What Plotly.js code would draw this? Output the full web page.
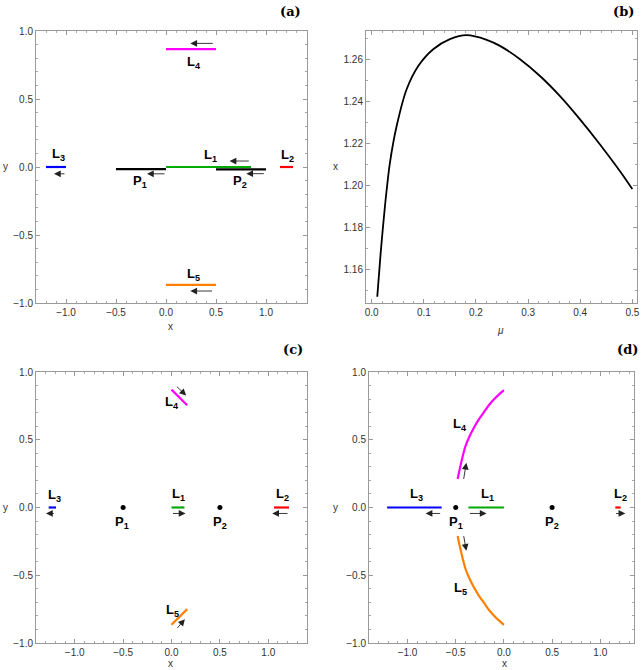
<!DOCTYPE html>
<html>
<head>
<meta charset="utf-8">
<script src="https://cdn.plot.ly/plotly-3.0.1.min.js"></script>
<style>
  html, body { margin: 0; padding: 0; background: #fff; }
  #grafica { width: 642px; height: 670px; }
</style>
</head>
<body>
<div id="grafica"></div>
<script>
// Panel (b): curva x(mu)
const mu = [0.0106, 0.0171, 0.0253, 0.0349, 0.0478, 0.067, 0.0893, 0.118, 0.150, 0.182, 0.2205, 0.246,
  0.2845, 0.3228, 0.3612, 0.3996, 0.438, 0.4764, 0.50];
const xMu = [1.1469, 1.1677, 1.190, 1.2108, 1.2284, 1.246, 1.2571, 1.2651, 1.2699, 1.2718, 1.2696, 1.2667,
  1.2603, 1.2523, 1.2427, 1.2316, 1.2196, 1.2068, 1.1983];

// Panel (a): segmentos
const aNombres = ["L3", "P1", "P2", "L1", "L2", "L4", "L5"];
const aX0 = [-1.2, -0.5, 0.5, 0, 1.14, 0, 0];
const aX1 = [-1.0, 0, 1.0, 0.85, 1.27, 0.5, 0.5];
const aY0 = [0, -0.015, -0.017, 0, 0, 0.866, -0.866];
const aY1 = [0, -0.015, -0.017, 0, 0, 0.866, -0.866];
// flechas (cola -> punta)
const aColaX = [-1.0, 0, 0.843, 0.993, 0.483, 0.476];
const aColaY = [-0.05, -0.05, 0.044, -0.049, 0.909, -0.912];
const aPuntaX = [-1.12, -0.19, 0.636, 0.803, 0.243, 0.243];
const aPuntaY = [-0.05, -0.05, 0.044, -0.049, 0.909, -0.912];
// etiquetas
const aEtiquetas = ["L3", "L1", "L2", "P1", "P2", "L4", "L5"];
const aEtiqX = [-1.074, 0.443, 1.216, -0.257, 0.743, 0.276, 0.276];
const aEtiqY = [0.093, 0.088, 0.088, -0.103, -0.103, 0.767, -0.794];

// Panel (c)
const cNombres = ["L3", "L1", "L2", "L4", "L5"];
const cX0 = [-1.269, 0, 1.059, 0, 0];
const cX1 = [-1.193, 0.134, 1.214, 0.162, 0.162];
const cY0 = [0, 0, 0, 0.87, -0.865];
const cY1 = [0, 0, 0, 0.755, -0.75];
const cColaX = [-1.2, 0, 1.214, 0.041, 0.048];
const cColaY = [-0.044, -0.044, -0.044, 0.902, -0.9];
const cPuntaX = [-1.297, 0.145, 1.041, 0.152, 0.138];
const cPuntaY = [-0.044, -0.044, -0.044, 0.826, -0.824];
const cEtiquetas = ["L3", "L1", "L2", "P1", "P2", "L4", "L5"];
const cEtiqX = [-1.21, 0.076, 1.145, -0.51, 0.497, 0.007, 0.007];
const cEtiqY = [0.086, 0.093, 0.093, -0.11, -0.11, 0.772, -0.76];

// Panel (d)
const dNombres = ["L3", "L1", "L2"];
const dX0 = [-1.212, -0.368, 1.156];
const dX1 = [-0.646, 0, 1.212];
const dY0 = [0, 0, 0];
const dY1 = [0, 0, 0];
const dL4x = [-0.48, -0.45, -0.40, -0.36, -0.31, -0.26, -0.21, -0.15, -0.10, -0.05, 0.0];
const dL4y = [0.21, 0.31, 0.45, 0.52, 0.59, 0.65, 0.70, 0.76, 0.80, 0.835, 0.866];
const dL5x = [-0.48, -0.45, -0.40, -0.36, -0.31, -0.26, -0.21, -0.15, -0.10, -0.05, 0.0];
const dL5y = [-0.21, -0.31, -0.45, -0.52, -0.59, -0.65, -0.70, -0.76, -0.80, -0.835, -0.866];
const dColaX = [-0.646, -0.368, 1.149, -0.42, -0.42];
const dColaY = [-0.044, -0.044, -0.044, 0.20, -0.20];
const dPuntaX = [-0.8125, -0.18, 1.26, -0.39, -0.39];
const dPuntaY = [-0.044, -0.044, -0.044, 0.33, -0.32];
const dEtiquetas = ["L3", "L1", "L2", "P1", "P2", "L4", "L5"];
const dEtiqX = [-0.906, -0.17, 1.208, -0.5, 0.5, -0.455, -0.455];
const dEtiqY = [0.098, 0.098, 0.098, -0.11, -0.11, 0.613, -0.60];

// Primarios
const primX = [-0.5, 0.5];
const primY = [0, 0];

const colores = {
  L1: "rgb(0,170,0)", L2: "rgb(255,0,0)", L3: "rgb(0,0,255)",
  L4: "rgb(255,0,255)", L5: "rgb(255,128,0)", P1: "#000", P2: "#000"
};

const trazas = [];
const anotaciones = [];

const segmentos = (nombres, x0, x1, y0, y1, ejeX, ejeY) => {
  nombres.forEach((n, i) => {
    trazas.push({
      x: [x0[i], x1[i]], y: [y0[i], y1[i]], xaxis: ejeX, yaxis: ejeY,
      mode: "lines", line: {color: colores[n], width: 2.2}, hoverinfo: "skip"
    });
  });
};

const flechas = (colaX, colaY, puntaX, puntaY, ejeX, ejeY) => {
  colaX.forEach((_, i) => {
    anotaciones.push({
      xref: ejeX, yref: ejeY, axref: ejeX, ayref: ejeY,
      x: puntaX[i], y: puntaY[i], ax: colaX[i], ay: colaY[i],
      text: "", showarrow: true, arrowhead: 2, arrowsize: 1.5, arrowwidth: 0.9, arrowcolor: "#222"
    });
  });
};

const etiquetas = (nombres, ex, ey, ejeX, ejeY) => {
  nombres.forEach((n, i) => {
    anotaciones.push({
      xref: ejeX, yref: ejeY, x: ex[i], y: ey[i], showarrow: false,
      text: `<b>${n[0]}<sub>${n[1]}</sub></b>`,
      font: {family: "Liberation Sans", size: 13, color: "#000"}
    });
  });
};

const puntos = (ejeX, ejeY) => {
  trazas.push({
    x: primX, y: primY, xaxis: ejeX, yaxis: ejeY, mode: "markers",
    marker: {color: "#000", size: 5}, hoverinfo: "skip"
  });
};

// (a)
segmentos(aNombres, aX0, aX1, aY0, aY1, "x", "y");
flechas(aColaX, aColaY, aPuntaX, aPuntaY, "x", "y");
etiquetas(aEtiquetas, aEtiqX, aEtiqY, "x", "y");

// (b)
trazas.push({
  x: mu, y: xMu, xaxis: "x2", yaxis: "y2", mode: "lines",
  line: {color: "#000", width: 1.8, shape: "spline", smoothing: 0.8}, hoverinfo: "skip"
});

// (c)
segmentos(cNombres, cX0, cX1, cY0, cY1, "x3", "y3");
puntos("x3", "y3");
flechas(cColaX, cColaY, cPuntaX, cPuntaY, "x3", "y3");
etiquetas(cEtiquetas, cEtiqX, cEtiqY, "x3", "y3");

// (d)
segmentos(dNombres, dX0, dX1, dY0, dY1, "x4", "y4");
trazas.push({x: dL4x, y: dL4y, xaxis: "x4", yaxis: "y4", mode: "lines",
  line: {color: colores.L4, width: 2.2, shape: "spline"}, hoverinfo: "skip"});
trazas.push({x: dL5x, y: dL5y, xaxis: "x4", yaxis: "y4", mode: "lines",
  line: {color: colores.L5, width: 2.2, shape: "spline"}, hoverinfo: "skip"});
puntos("x4", "y4");
flechas(dColaX, dColaY, dPuntaX, dPuntaY, "x4", "y4");
etiquetas(dEtiquetas, dEtiqX, dEtiqY, "x4", "y4");

// Textos de ejes y paneles (en pixeles de la imagen)
const W = 642, H = 670;
const texto = (t, px, py, fuente) => {
  anotaciones.push({
    xref: "paper", yref: "paper", x: px / W, y: 1 - py / H, text: t,
    showarrow: false, xanchor: "center", yanchor: "middle", font: fuente
  });
};
const fEje = {family: "Liberation Sans", size: 10, color: "#333"};
const fPanel = {family: "DejaVu Serif", size: 13, color: "#000", weight: "bold"};
texto("x", 171, 326, fEje);
texto("<i>μ</i>", 500, 330, fEje);
texto("x", 171, 663, fEje);
texto("x", 504, 663, fEje);
texto("y", 5, 167, fEje);
texto("x", 336, 167, fEje);
texto("y", 5, 507, fEje);
texto("y", 336, 507, fEje);
texto("(a)", 290, 11, fPanel);
texto("(b)", 623, 11, fPanel);
texto("(c)", 293, 350, fPanel);
texto("(d)", 627, 350, fPanel);

const eje = (dominio, rango, dtick, tick0, menor, formato, ancla) => ({
  domain: dominio, range: rango, dtick: dtick, tick0: tick0, tickformat: formato,
  anchor: ancla, ticks: "inside", ticklen: 4, tickcolor: "#999", tickwidth: 1,
  showline: true, linecolor: "#999", linewidth: 1, mirror: "ticks",
  showgrid: false, zeroline: false, fixedrange: true,
  minor: {ticks: "inside", ticklen: 2, dtick: menor, tick0: tick0, tickcolor: "#aaa", showgrid: false},
  tickfont: {family: "Liberation Sans", size: 10, color: "#333"}
});

const arriba = [(H - 303) / H, (H - 31) / H];
const abajo = [(H - 643) / H, (H - 372) / H];

const diseño = {
  width: W, height: H,
  margin: {l: 0, r: 0, t: 0, b: 0},
  paper_bgcolor: "#fff", plot_bgcolor: "#fff",
  showlegend: false,
  xaxis: eje([36 / W, 307 / W], [-1.3, 1.41], 0.5, 0, 0.1, ".1f", "y"),
  yaxis: eje(arriba, [-1, 1], 0.5, 0, 0.1, ".1f", "x"),
  xaxis2: eje([366 / W, 636.5 / W], [-0.011, 0.508], 0.1, 0, 0.02, ".1f", "y2"),
  yaxis2: eje(arriba, [1.1439, 1.2738], 0.02, 1.16, 0.01, ".2f", "x2"),
  xaxis3: eje([36 / W, 307 / W], [-1.4, 1.4], 0.5, 0, 0.1, ".1f", "y3"),
  yaxis3: eje(abajo, [-1, 1], 0.5, 0, 0.1, ".1f", "x3"),
  xaxis4: eje([369 / W, 634 / W], [-1.4, 1.35], 0.5, 0, 0.1, ".1f", "y4"),
  yaxis4: eje(abajo, [-1, 1], 0.5, 0, 0.1, ".1f", "x4"),
  annotations: anotaciones
};

Plotly.newPlot("grafica", trazas, diseño, {staticPlot: true});
</script>
</body>
</html>
